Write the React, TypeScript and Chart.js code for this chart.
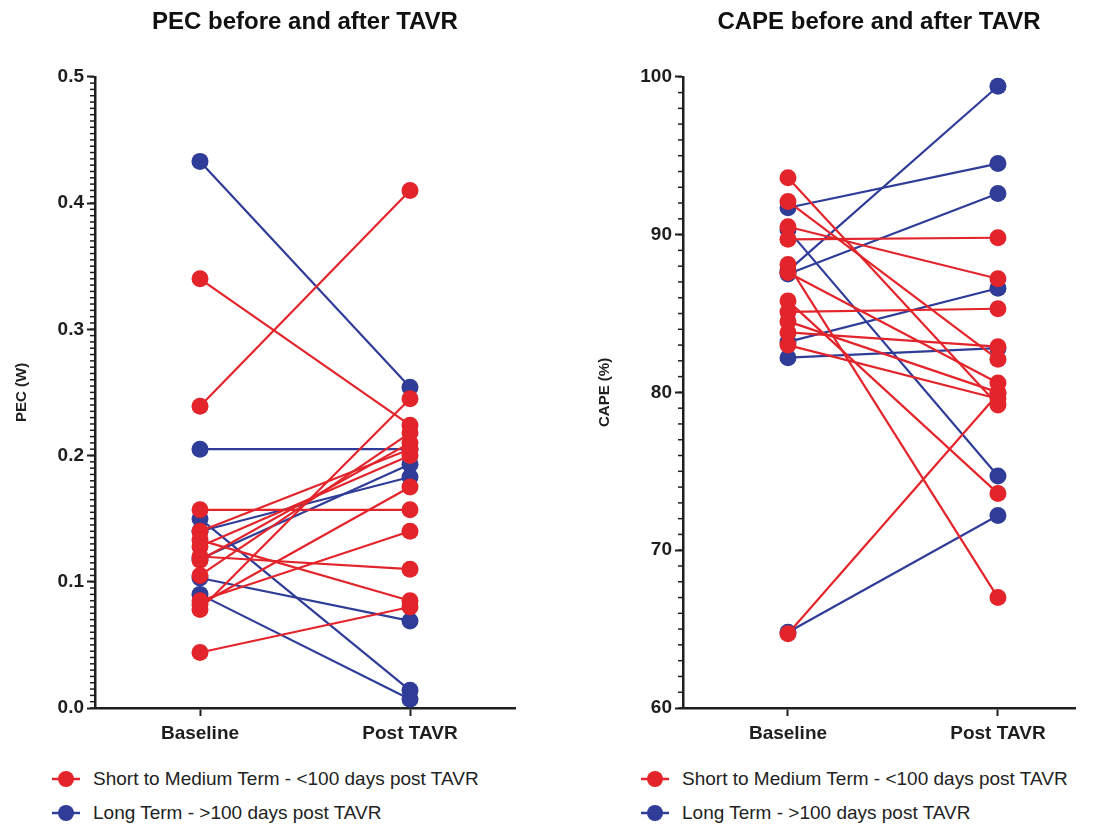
import React, { useEffect, useRef } from "react";
import { Chart, registerables } from "chart.js";

Chart.register(...registerables);

const FONT = '"Liberation Sans", Arial, Helvetica, sans-serif';
const RED = "#E3242B";
const BLUE = "#2F3C98";
const INK = "#1E1E1E";

const categories = ["Baseline", "Post TAVR"];
const seriesNames = [
  "Short to Medium Term - <100 days post TAVR",
  "Long Term - >100 days post TAVR",
];

// PEC (W)
const pecTickLabels = [0, 0.1, 0.2, 0.3, 0.4, 0.5];
const pecShortBaseline = [0.34, 0.239, 0.157, 0.044, 0.085, 0.12, 0.133, 0.078, 0.105, 0.117, 0.14, 0.128, 0.082];
const pecShortPost = [0.224, 0.41, 0.157, 0.08, 0.14, 0.11, 0.085, 0.245, 0.218, 0.21, 0.205, 0.2, 0.175];
const pecLongBaseline = [0.433, 0.205, 0.15, 0.14, 0.118, 0.103, 0.09];
const pecLongPost = [0.254, 0.205, 0.014, 0.183, 0.193, 0.069, 0.007];

// CAPE (%)
const capeTickLabels = [60, 70, 80, 90, 100];
const capeShortBaseline = [93.6, 92.1, 90.5, 89.7, 88.1, 87.6, 85.8, 85.1, 84.5, 83.8, 83.0, 64.7];
const capeShortPost = [79.2, 82.1, 87.2, 89.8, 67.0, 80.6, 73.6, 85.3, 80.0, 82.9, 79.6, 79.9];
const capeLongBaseline = [91.7, 90.3, 87.7, 87.5, 83.2, 82.2, 64.8];
const capeLongPost = [94.5, 74.7, 99.4, 92.6, 86.6, 82.8, 72.2];

const minorTickPlugin = {
  id: "minorTicks",
  afterDraw(chart: any, _args: any, opts: any) {
    const s = chart.scales.y;
    const ctx = chart.ctx;
    const step = opts.step;
    const n = Math.round((s.max - s.min) / step);
    ctx.save();
    ctx.strokeStyle = INK;
    ctx.lineWidth = 1.5;
    for (let i = 0; i <= n; i++) {
      const y = s.getPixelForValue(s.min + i * step);
      ctx.beginPath();
      ctx.moveTo(s.right, y);
      ctx.lineTo(s.right - 5, y);
      ctx.stroke();
    }
    ctx.restore();
  },
};

function makeDataset(b: number, p: number, color: string) {
  return {
    data: [
      { x: 0, y: b },
      { x: 1, y: p },
    ],
    showLine: true,
    borderColor: color,
    backgroundColor: color,
    pointBackgroundColor: color,
    pointBorderColor: color,
    pointBorderWidth: 0,
    borderWidth: 2.2,
    pointRadius: 8.5,
    pointHoverRadius: 8.5,
  };
}

type PanelProps = {
  width: number;
  title: string;
  yTitle: string;
  ticks: number[];
  decimals: number;
  minorStep: number;
  xMax: number;
  shortB: number[];
  shortP: number[];
  longB: number[];
  longP: number[];
  axisWidth: number;
  yTitlePad: number;
  padRight: number;
  legendPad: number;
};

function Panel(props: PanelProps) {
  const ref = useRef<HTMLCanvasElement>(null);
  useEffect(() => {
    const datasets: any[] = [];
    props.shortB.forEach((b, i) => datasets.push(makeDataset(b, props.shortP[i], RED)));
    props.longB.forEach((b, i) => datasets.push(makeDataset(b, props.longP[i], BLUE)));
    const tickFont = { family: FONT, size: 19, weight: "bold" as const };
    const chart = new Chart(ref.current as HTMLCanvasElement, {
      type: "scatter",
      data: { datasets },
      options: {
        animation: false,
        responsive: true,
        maintainAspectRatio: false,
        layout: { padding: { left: 0, right: props.padRight, top: 0, bottom: 0 } },
        plugins: {
          legend: { display: false },
          tooltip: { enabled: false },
          title: {
            display: true,
            text: props.title,
            fullSize: false,
            color: "#111",
            font: { family: FONT, size: 24, weight: "bold" },
            padding: { top: 0, bottom: 40 },
          },
          minorTicks: { step: props.minorStep },
        } as any,
        scales: {
          x: {
            type: "linear",
            min: -0.5,
            max: props.xMax,
            afterBuildTicks: (s: any) => {
              s.ticks = [{ value: 0 }, { value: 1 }];
            },
            afterFit: (s: any) => {
              s.height = 60;
            },
            ticks: {
              autoSkip: false,
              maxRotation: 0,
              padding: 6,
              color: INK,
              font: tickFont,
              callback: (v: any) => categories[Math.round(Number(v))],
            },
            grid: {
              drawOnChartArea: false,
              drawTicks: true,
              tickLength: 8,
              tickWidth: 2,
              color: INK,
            },
            border: { color: INK, width: 2.5 },
          },
          y: {
            type: "linear",
            min: props.ticks[0],
            max: props.ticks[props.ticks.length - 1],
            afterBuildTicks: (s: any) => {
              s.ticks = props.ticks.map((v) => ({ value: v }));
            },
            afterFit: (s: any) => {
              s.width = props.axisWidth;
            },
            ticks: {
              padding: 3,
              color: INK,
              font: tickFont,
              callback: (v: any) => Number(v).toFixed(props.decimals),
            },
            grid: {
              drawOnChartArea: false,
              drawTicks: true,
              tickLength: 8,
              tickWidth: 2,
              color: INK,
            },
            border: { color: INK, width: 2.5 },
            title: {
              display: true,
              text: props.yTitle,
              color: INK,
              font: { family: FONT, size: 15, weight: "bold" },
              padding: { top: props.yTitlePad, bottom: 0 },
            },
          },
        },
      },
      plugins: [minorTickPlugin as any],
    });
    return () => chart.destroy();
  }, []);

  const legendColors = [RED, BLUE];
  return (
    <div style={{ width: props.width }}>
      <div style={{ position: "relative", width: props.width, height: 760 }}>
        <canvas ref={ref} />
      </div>
      <div style={{ paddingLeft: props.legendPad, display: "flex", flexDirection: "column", gap: 12 }}>
        {seriesNames.map((name, i) => (
          <div key={name} style={{ display: "flex", alignItems: "center", height: 22 }}>
            <svg width={28} height={18} style={{ flex: "none" }}>
              <line x1={0} y1={9} x2={28} y2={9} stroke={legendColors[i]} strokeWidth={2.5} />
              <circle cx={14} cy={9} r={8} fill={legendColors[i]} />
            </svg>
            <span style={{ marginLeft: 13, fontFamily: FONT, fontSize: 19, color: "#222", whiteSpace: "nowrap" }}>
              {name}
            </span>
          </div>
        ))}
      </div>
    </div>
  );
}

export default function App() {
  return (
    <div style={{ display: "flex", width: 1091 }}>
      <Panel
        width={577}
        title="PEC before and after TAVR"
        yTitle="PEC (W)"
        ticks={pecTickLabels}
        decimals={1}
        minorStep={0.005}
        xMax={1.5}
        shortB={pecShortBaseline}
        shortP={pecShortPost}
        longB={pecLongBaseline}
        longP={pecLongPost}
        axisWidth={87}
        yTitlePad={5}
        padRight={70}
        legendPad={44}
      />
      <Panel
        width={514}
        title="CAPE before and after TAVR"
        yTitle="CAPE (%)"
        ticks={capeTickLabels}
        decimals={0}
        minorStep={1}
        xMax={1.367}
        shortB={capeShortBaseline}
        shortP={capeShortPost}
        longB={capeLongBaseline}
        longP={capeLongPost}
        axisWidth={98}
        yTitlePad={11}
        padRight={24}
        legendPad={56}
      />
    </div>
  );
}
